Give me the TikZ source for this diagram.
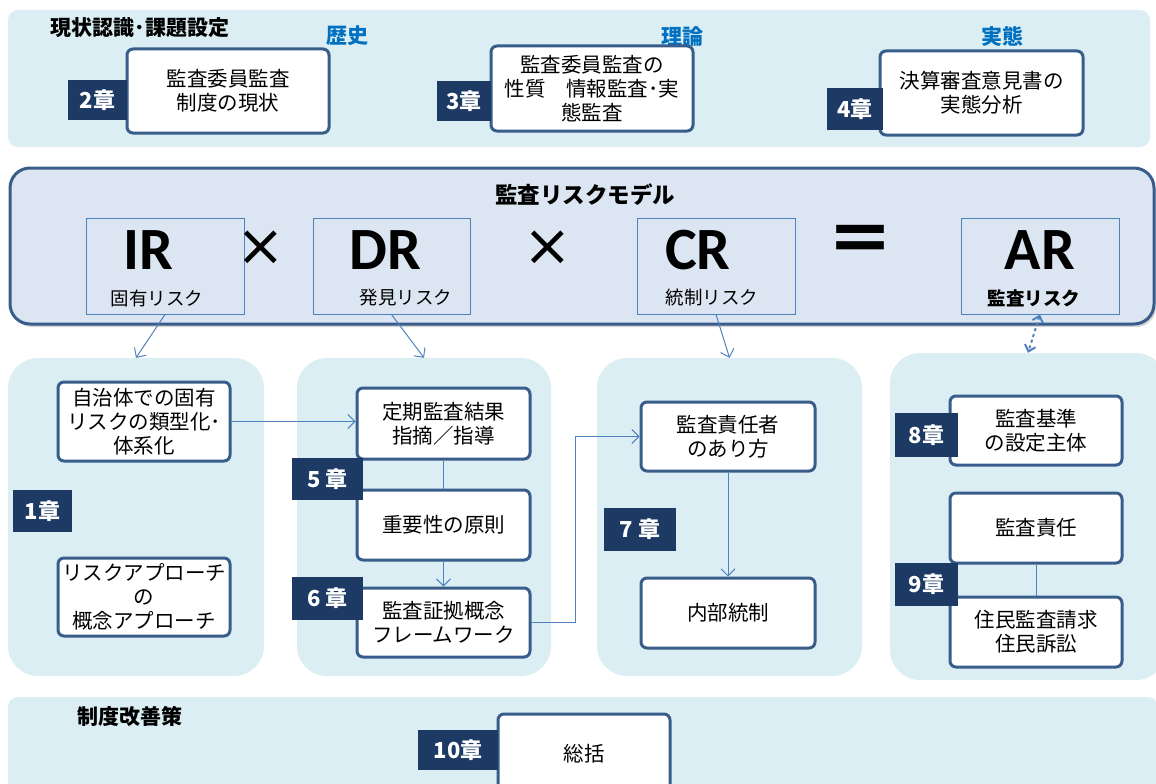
\documentclass[tikz,border=0pt]{standalone}
\usepackage{fontspec}
\setmainfont{Noto Sans CJK JP}
\newfontfamily\latin{Carlito}
\newfontfamily\dejavu{DejaVu Sans}
\usetikzlibrary{arrows.meta,shadows}
\definecolor{panel}{HTML}{DAEEF3}
\definecolor{midfill}{HTML}{DCE6F2}
\definecolor{edge}{HTML}{385D8A}
\definecolor{navy}{HTML}{1C3A63}
\definecolor{conn}{HTML}{4F81BD}
\definecolor{head}{HTML}{0070C0}
\tikzset{
  panelbox/.style={fill=panel, draw=none, rounded corners=#1, inner sep=0},
  wbox/.style={draw=edge, line width=3pt, fill=white, rounded corners=6pt, align=center, inner sep=1pt,
    font=\fontsize{20.5}{24}\selectfont},
  chap/.style={fill=navy, text=white, inner sep=0, font=\bfseries\fontsize{22}{24}\selectfont},
  rbox/.style={draw=conn, line width=1pt, inner sep=0},
  bigl/.style={inner sep=0, font=\latin\bfseries\fontsize{60}{60}\selectfont},
  smalll/.style={inner sep=0, font=\fontsize{18.5}{22}\selectfont},
  optext/.style={inner sep=0},
  titletext/.style={inner sep=0, font=\bfseries\fontsize{21}{24}\selectfont},
  headtext/.style={inner sep=0, text=head, font=\bfseries\fontsize{21}{24}\selectfont},
  arr/.style={draw=conn, line width=1pt, -{Straight Barb[length=7pt,width=14pt,line width=1pt]}},
  plain/.style={draw=conn, line width=1pt},
}
\begin{document}
\begin{tikzpicture}[x=1pt,y=-1pt]
\useasboundingbox (0,0) rectangle (1156,784);
\clip (0,0) rectangle (1156,784);

% ---------- top panel ----------
\node[panelbox=10pt, minimum width=1142, minimum height=137] (top) at (579,78.5) {};
\node[titletext] (ttl1) at (140,28) {現状認識･課題設定};
\node[headtext] (hist) at (347,36) {歴史};
\node[headtext] (theo) at (682,36) {理論};
\node[headtext] (real) at (1002,36) {実態};

\node[wbox, minimum width=202, minimum height=84] (b2) at (228,91) {監査委員監査\\制度の現状};
\node[chap, minimum width=59, minimum height=40] (c2) at (97.5,100) {2章};
\node[wbox, minimum width=202, minimum height=85] (b3) at (592,88.5) {監査委員監査の\\性質　情報監査･実\\態監査};
\node[chap, minimum width=54, minimum height=40] (c3) at (464,101) {3章};
\node[wbox, minimum width=203, minimum height=84] (b4) at (981.5,93) {決算審査意見書の\\実態分析};
\node[chap, minimum width=56, minimum height=42] (c4) at (855,109) {4章};

% ---------- audit risk model ----------
\node[fill=midfill, draw=edge, line width=3pt, rounded corners=20pt, inner sep=0,
      minimum width=1144, minimum height=156,
      drop shadow={shadow xshift=2pt, shadow yshift=-3pt, opacity=0.35}] (model) at (582,246) {};
\node[titletext, font=\bfseries\fontsize{22.5}{24}\selectfont] (ttl2) at (585,195) {監査リスクモデル};

\node[rbox, minimum width=158, minimum height=96] (ir) at (165,266) {};
\node[rbox, minimum width=157, minimum height=96] (dr) at (391.5,266) {};
\node[rbox, minimum width=158, minimum height=96] (cr) at (716,266) {};
\node[rbox, minimum width=158, minimum height=96] (ar) at (1040,266) {};

\node[bigl] (irt) at (148,250) {IR};
\node[bigl] (drt) at (385,250) {DR};
\node[bigl] (crt) at (698,250) {CR};
\node[bigl] (art) at (1040,250) {AR};
\node[smalll] (irl) at (157,298) {固有リスク};
\node[smalll] (drl) at (406,298) {発見リスク};
\node[smalll] (crl) at (712,298) {統制リスク};
\node[smalll, font=\bfseries\fontsize{18.5}{22}\selectfont] (arl) at (1034,298) {監査リスク};

\node[optext, font=\dejavu\fontsize{58}{58}\selectfont] (x1) at (261,248) {×};
\node[optext, font=\dejavu\fontsize{58}{58}\selectfont] (x2) at (548,248) {×};
\node[optext, font=\bfseries\fontsize{68}{68}\selectfont] (eq) at (860,245) {＝};

% ---------- lower panels ----------
\node[panelbox=30pt, minimum width=256, minimum height=318] (p1) at (136,517) {};
\node[panelbox=30pt, minimum width=254, minimum height=318] (p2) at (424,517) {};
\node[panelbox=30pt, minimum width=265, minimum height=318] (p3) at (729.5,517) {};
\node[panelbox=30pt, minimum width=276, minimum height=327] (p4) at (1028,516.5) {};

\node[wbox, minimum width=172, minimum height=79] (a) at (144,421.5) {自治体での固有\\リスクの類型化･\\体系化};
\node[chap, minimum width=59, minimum height=42] (c1) at (42.5,511) {1章};
\node[wbox, minimum width=172, minimum height=78] (bb) at (144,597) {リスクアプローチ\\の\\概念アプローチ};

\node[wbox, minimum width=173, minimum height=71] (c) at (443.5,423.5) {定期監査結果\\指摘／指導};
\node[wbox, minimum width=173, minimum height=70] (d) at (443.5,525) {重要性の原則};
\node[wbox, minimum width=173, minimum height=69] (e) at (443.5,622.5) {監査証拠概念\\フレームワーク};
\node[chap, minimum width=71, minimum height=42] (c5) at (327.5,479) {5 章};
\node[chap, minimum width=71, minimum height=43] (c6) at (327.5,598.5) {6 章};

\node[wbox, minimum width=174, minimum height=69] (f) at (728,436.5) {監査責任者\\のあり方};
\node[wbox, minimum width=174, minimum height=70] (g) at (728,613) {内部統制};
\node[chap, minimum width=72, minimum height=43] (c7) at (640,529.5) {7 章};

\node[wbox, minimum width=172, minimum height=69] (h) at (1036,430.5) {監査基準\\の設定主体};
\node[wbox, minimum width=172, minimum height=70] (i) at (1036,528) {監査責任};
\node[wbox, minimum width=172, minimum height=70] (j) at (1036,632) {住民監査請求\\住民訴訟};
\node[chap, minimum width=63, minimum height=44] (c8) at (926.5,435) {8章};
\node[chap, minimum width=63, minimum height=43] (c9) at (926.5,584.5) {9章};

% ---------- bottom panel ----------
\node[panelbox=10pt, minimum width=1150, minimum height=110] (bot) at (583,752) {};
\node[titletext] (ttl3) at (130,716) {制度改善策};
\node[wbox, minimum width=172, minimum height=80] (k) at (584,754) {総括};
\node[chap, minimum width=80, minimum height=40] (c10) at (458,750) {10章};

% ---------- connectors ----------
\draw[arr] (ir.south) -- (p1.north);
\draw[arr] (dr.south) -- (p2.north);
\draw[arr] (cr.south) -- (p3.north);
\draw[draw=conn, line width=2pt, dashed, {Straight Barb[length=6pt,width=11pt,line width=2pt]}-{Straight Barb[length=6pt,width=11pt,line width=2pt]}] (ar.south) -- (p4.north);

\draw[arr] (a.east) -- (a.east -| c.west);
\draw[plain] (c.south) -- (d.north);
\draw[arr] (d.south) -- (e.north);
\coordinate (turn) at (575,0);
\draw[arr] (e.east) -- (e.east -| turn) -- (f.west -| turn) -- (f.west);
\draw[arr] (f.south) -- (g.north);
\draw[plain] (i.south) -- (j.north);
\end{tikzpicture}
\end{document}
